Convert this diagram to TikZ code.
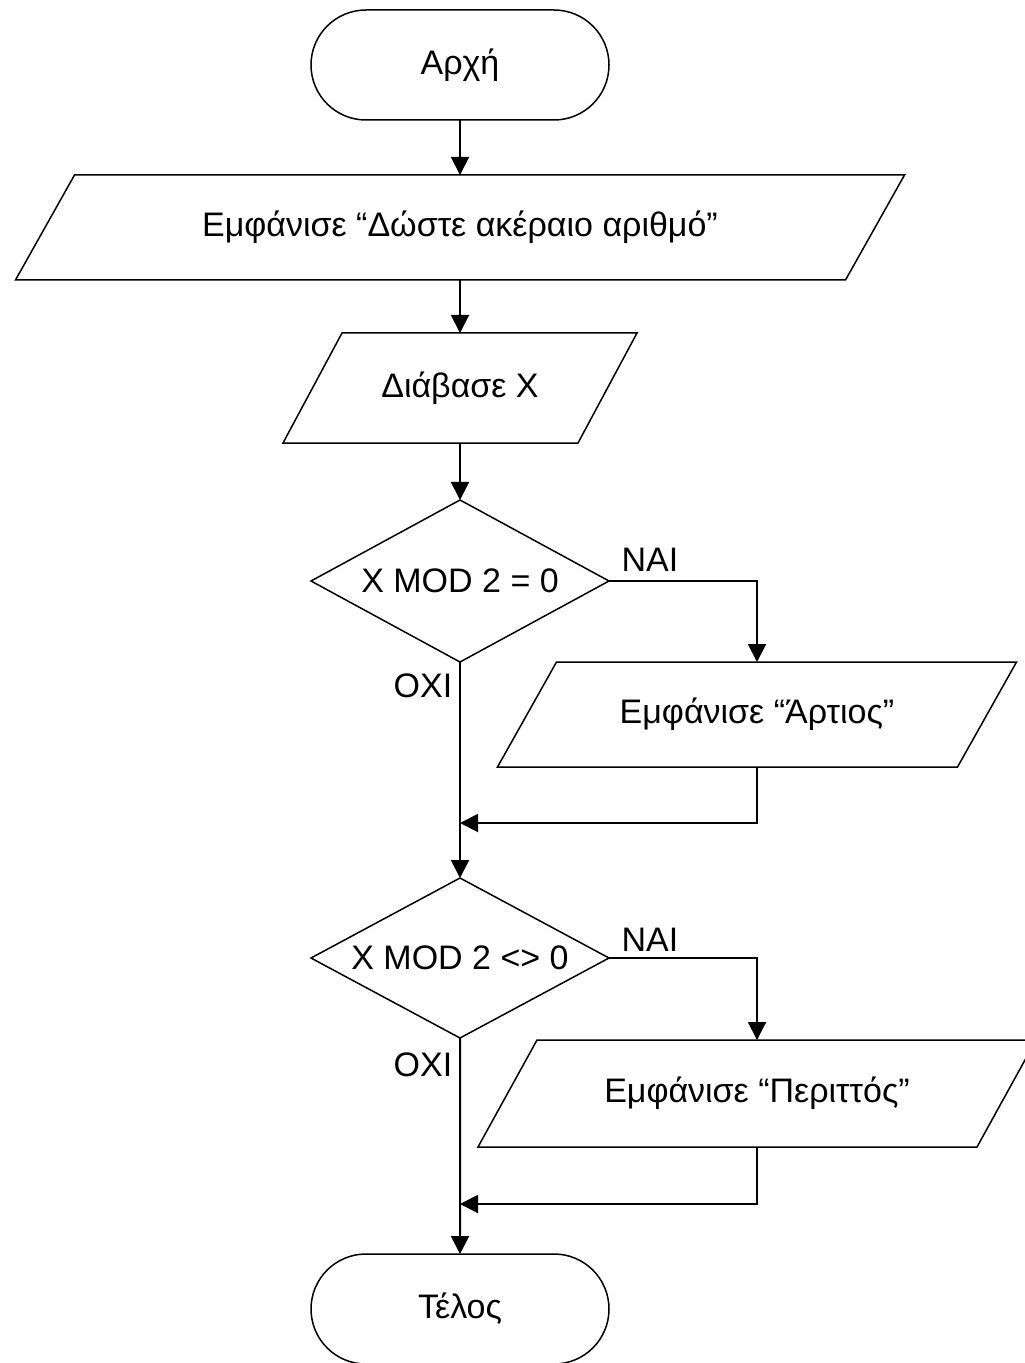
\documentclass[tikz,border=0pt]{standalone}
\usepackage{fontspec}
\setmainfont{Liberation Sans}
\usetikzlibrary{shapes.geometric,shapes.misc,arrows.meta}
\begin{document}
\begin{tikzpicture}[x=0.5pt,y=-0.5pt,
  every node/.style={font=\fontsize{17}{20}\selectfont, outer sep=0pt, inner sep=0pt},
  term/.style={rounded rectangle, draw, line width=0.75pt, minimum width=149pt, minimum height=55pt},
  iobox/.style={rectangle, draw=none, minimum height=#1},
  decision/.style={diamond, draw, line width=0.75pt, minimum width=149pt, minimum height=81pt, aspect=1.84},
  outline/.style={line width=0.75pt, line join=miter},
  arr/.style={line width=1pt, -{Triangle[length=9pt,width=9pt]}},
  lbl/.style={font=\fontsize{17}{20}\selectfont}
]
\useasboundingbox (0,0) rectangle (1024,1363);

% terminals
\node[term] (start) at (460,65) {Αρχή};
\node[term] (end) at (460,1309) {Τέλος};

% input/output boxes (text holders), outlines drawn below
\node[iobox=52.5pt, minimum width=415pt] (p1) at (460,227.5) {Εμφάνισε “Δώστε ακέραιο αριθμό”};
\node[iobox=55pt, minimum width=147.5pt] (p2) at (460,388) {Διάβασε Χ};
\node[iobox=52.5pt, minimum width=230pt] (p3) at (757,714.5) {Εμφάνισε “Άρτιος”};
\node[iobox=53.5pt, minimum width=249.5pt] (p4) at (757,1093.5) {Εμφάνισε “Περιττός”};

\foreach \n in {p1,p2,p3,p4}{
  \draw[outline] ([xshift=14.75pt]\n.north west) -- ([xshift=14.75pt]\n.north east)
    -- ([xshift=-14.75pt]\n.south east) -- ([xshift=-14.75pt]\n.south west) -- cycle;
}

% decisions
\node[decision] (d1) at (460,581) {Χ MOD 2 = 0};
\node[decision, minimum height=80pt] (d2) at (460,958) {Χ MOD 2 <> 0};

% join points
\coordinate (j1) at (460,823);
\coordinate (j2) at (460,1204);

% labels
\node[lbl] (yes1) at (650,560) {ΝΑΙ};
\node[lbl] (no1) at (423,686) {ΟΧΙ};
\node[lbl] (yes2) at (650,940) {ΝΑΙ};
\node[lbl] (no2) at (423,1065) {ΟΧΙ};

% connectors
\draw[arr] (start) -- (p1);
\draw[arr] (p1) -- (p2);
\draw[arr] (p2) -- (d1);
\draw[arr] (d1.east) -| (p3.north);
\draw[arr] (p3.south) |- (j1);
\draw[arr] (d1) -- (d2);
\draw[arr] (d2.east) -| (p4.north);
\draw[arr] (p4.south) |- (j2);
\draw[arr] (d2) -- (end);
\end{tikzpicture}
\end{document}
